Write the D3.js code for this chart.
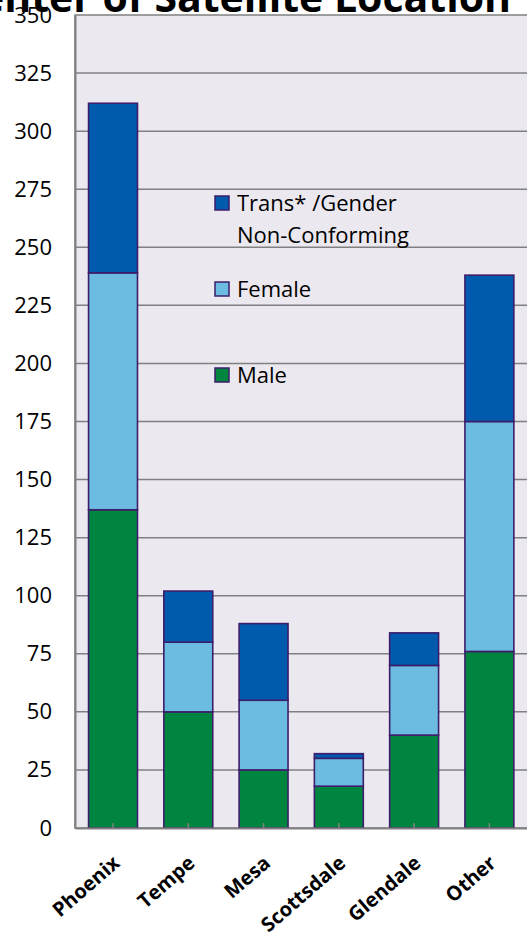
<!DOCTYPE html>
<html><head><meta charset="utf-8">
<script src="https://cdn.jsdelivr.net/npm/d3@7"></script>
<style>body{margin:0;background:#fff;overflow:hidden}</style>
</head><body>
<svg id="c" width="527" height="946"></svg>
<script>
const categories = ["Phoenix","Tempe","Mesa","Scottsdale","Glendale","Other"];
const male   = [137, 50, 25, 18, 40, 76];
const female = [102, 30, 30, 12, 30, 99];
const trans  = [73, 22, 33, 2, 14, 63];
const seriesNames = ["Male","Female","Trans* /Gender Non-Conforming"];
const yTicks = [0,25,50,75,100,125,150,175,200,225,250,275,300,325,350];
const colors = {"Male":"#008540","Female":"#6cbbe1","Trans* /Gender Non-Conforming":"#005aad"};

(function(){
const FONT = "'Open Sans', 'Noto Sans', sans-serif";
const svg = d3.select("#c");
const pLeft = 75, pTop = 15, pBottom = 828, pRight = 527 + 1;
const x = d3.scaleBand().domain(categories).range([pLeft, pLeft + 6*75.4]).paddingInner(0.35).paddingOuter(0.18);
const y = d3.scaleLinear().domain([0,350]).range([pBottom, pTop]);

svg.append("rect").attr("x", pLeft).attr("y", pTop).attr("width", pRight-pLeft).attr("height", pBottom-pTop)
  .attr("fill", "#ebe8f0").attr("stroke", "#808080").attr("stroke-width", 1.5);

svg.append("g").selectAll("line").data(yTicks.filter(d=>d>0 && d<350)).join("line")
  .attr("x1", pLeft).attr("x2", pRight).attr("y1", d=>y(d)).attr("y2", d=>y(d))
  .attr("stroke", "#808080").attr("stroke-width", 1.5);

svg.append("text").attr("x", 511).attr("y", 12).attr("text-anchor","end")
  .attr("font-family",FONT).attr("font-weight","bold").attr("font-size", 41)
  .attr("fill","#000").text("Center of Satellite Location");

const rows = categories.map((c,i)=>({cat:c, "Male":male[i], "Female":female[i], "Trans* /Gender Non-Conforming":trans[i]}));
const stack = d3.stack().keys(seriesNames)(rows);

svg.append("g").selectAll("g").data(stack).join("g")
  .attr("fill", d=>colors[d.key])
  .selectAll("rect").data(d=>d).join("rect")
  .attr("x", d=>x(d.data.cat)).attr("width", x.bandwidth())
  .attr("y", d=>y(d[1])).attr("height", d=>y(d[0])-y(d[1]))
  .attr("stroke","#3d1d6b").attr("stroke-width",1.6);

const yAxis = d3.axisLeft(y).tickValues(yTicks).tickSize(0).tickPadding(23);
const ya = svg.append("g").attr("transform",`translate(${pLeft},0)`).call(yAxis);
ya.select(".domain").attr("stroke","#808080").attr("stroke-width",2);
ya.selectAll("text").attr("font-family",FONT).attr("font-size",22).attr("fill","#000");

const xAxis = d3.axisBottom(x).tickSize(-5).tickPadding(0).tickSizeOuter(0);
const xa = svg.append("g").attr("transform",`translate(0,${pBottom})`).call(xAxis);
xa.select(".domain").attr("stroke","#808080").attr("stroke-width",2);
xa.selectAll(".tick line").attr("stroke","#808080").attr("stroke-width",1.5);
xa.selectAll("text").attr("font-family",FONT).attr("font-weight","bold").attr("font-size",20)
  .attr("fill","#000").attr("text-anchor","end").attr("dy",0)
  .attr("transform","translate(8,37) rotate(-41)");

const legendItems = [
  {key:"Trans* /Gender Non-Conforming", lines:["Trans* /Gender","Non-Conforming"], y:211},
  {key:"Female", lines:["Female"], y:297},
  {key:"Male", lines:["Male"], y:383}
];
const lg = svg.append("g");
legendItems.forEach(it=>{
  lg.append("rect").attr("x",215).attr("y",it.y-15).attr("width",14).attr("height",14)
    .attr("fill",colors[it.key]).attr("stroke","#3d1d6b").attr("stroke-width",1.5);
  it.lines.forEach((t,j)=>{
    lg.append("text").attr("x",237).attr("y",it.y+j*32).attr("font-family",FONT)
      .attr("font-size",22).attr("fill","#000").text(t);
  });
});
})();
</script>
</body></html>
